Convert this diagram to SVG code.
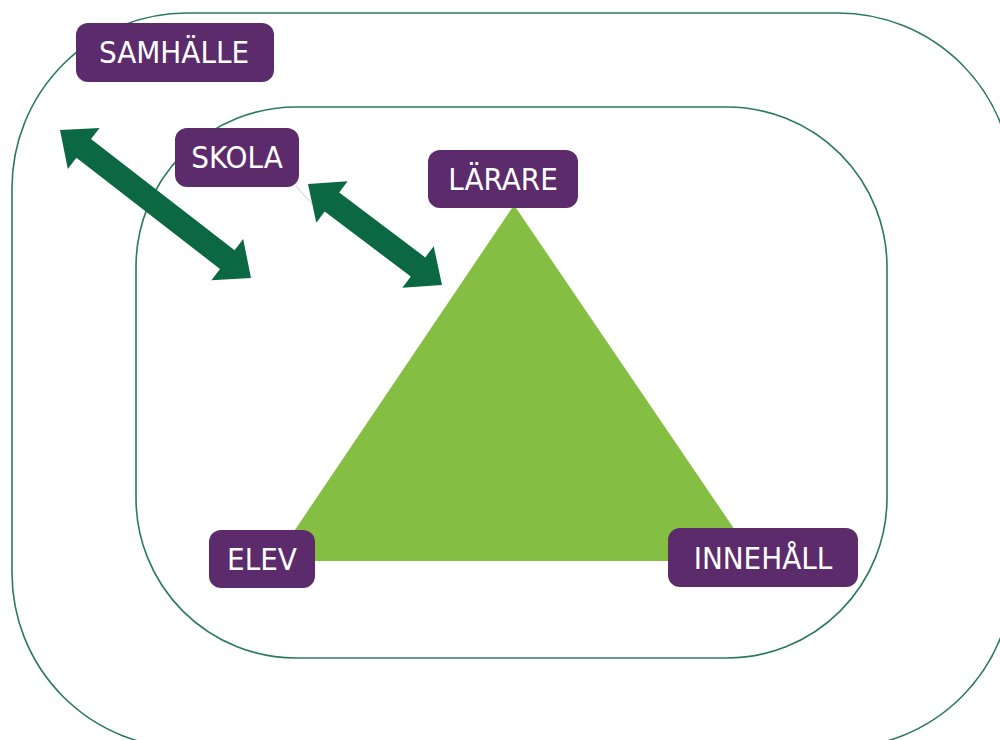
<svg xmlns="http://www.w3.org/2000/svg" width="1000" height="740" viewBox="0 0 1000 740">
<style>
.frame{fill:none;stroke:#2b7a5c;stroke-width:1.6}
.box{fill:#5c2b6c}
.lbl{fill:#ffffff;font-family:"DejaVu Sans Condensed","DejaVu Sans",sans-serif;font-size:31px;text-anchor:middle}
.arrow{fill:#0b6842}
</style>
<rect width="1000" height="740" fill="#ffffff"/>
<g id="frames">
<rect id="samhalle-frame" class="frame" x="12" y="13" width="1001" height="735" rx="175" ry="175"/>
<rect id="skola-frame" class="frame" x="136" y="107" width="751" height="551" rx="160" ry="160"/>
</g>
<g id="triangle">
<polygon points="514,205 274,561 756,561" fill="#84bf43"/>
</g>
<g id="connectors">
<line x1="296" y1="186" x2="312" y2="204" stroke="#cccccc" stroke-width="1"/>
<polygon class="arrow" points="60,130 99.6,127.9 91.0,139.0 234.6,250.2 243.2,239.1 251,278 211.4,280.2 220.0,269.0 76.4,157.8 67.8,168.9"/>
<polygon class="arrow" points="308,184 347.6,181.3 339.2,192.5 425.3,257.4 433.7,246.2 442,285 402.4,287.7 410.8,276.5 324.7,211.6 316.3,222.8"/>
</g>
<g id="samhalle">
<rect class="box" x="76" y="23" width="198" height="59" rx="12"/>
<text class="lbl" x="174" y="63">SAMHÄLLE</text>
</g>
<g id="skola">
<rect class="box" x="175" y="128" width="124" height="59" rx="12"/>
<text class="lbl" x="237" y="168">SKOLA</text>
</g>
<g id="larare">
<rect class="box" x="428" y="150" width="150" height="58" rx="12"/>
<text class="lbl" x="503" y="190">LÄRARE</text>
</g>
<g id="elev">
<rect class="box" x="209" y="530" width="106" height="58" rx="12"/>
<text class="lbl" x="262" y="570">ELEV</text>
</g>
<g id="innehall">
<rect class="box" x="668" y="528" width="190" height="59" rx="12"/>
<text class="lbl" x="763" y="569">INNEHÅLL</text>
</g>
</svg>
